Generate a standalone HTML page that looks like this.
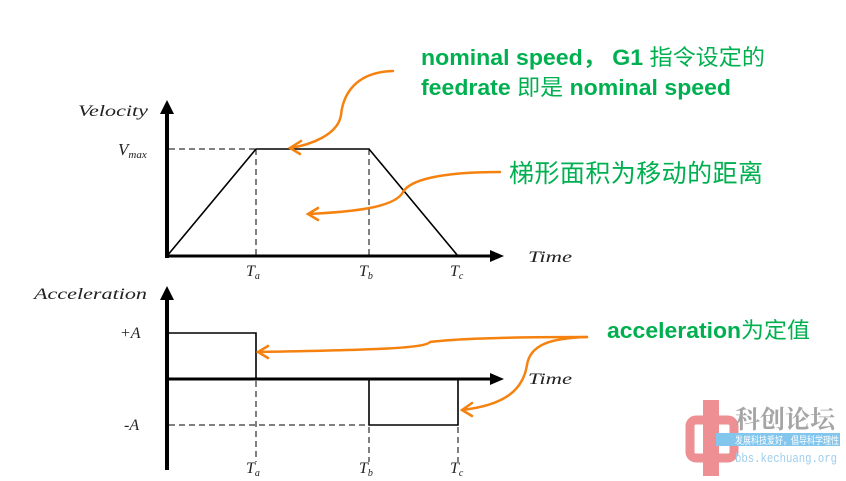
<!DOCTYPE html>
<html><head><meta charset="utf-8"><style>
body{margin:0;width:846px;height:481px;background:#fff;overflow:hidden;position:relative}
svg{position:absolute;left:0;top:0}
</style></head><body>
<svg width="846" height="481" viewBox="0 0 846 481" xmlns="http://www.w3.org/2000/svg">
<g font-family="Liberation Serif, serif" font-style="italic" fill="#222">
<text x="78" y="116" font-size="16" textLength="70" lengthAdjust="spacingAndGlyphs">Velocity</text>
<text x="118" y="155" font-size="17">V<tspan font-size="11" dy="3">max</tspan></text>
<text x="528" y="262" font-size="16" textLength="44" lengthAdjust="spacingAndGlyphs">Time</text>
<text x="246" y="276" font-size="16">T<tspan font-size="10" dy="3">a</tspan></text>
<text x="359" y="276" font-size="16">T<tspan font-size="10" dy="3">b</tspan></text>
<text x="450" y="276" font-size="16">T<tspan font-size="10" dy="3">c</tspan></text>
<text x="34" y="299" font-size="16" textLength="113" lengthAdjust="spacingAndGlyphs">Acceleration</text>
<text x="120" y="338" font-size="16">+A</text>
<text x="124" y="430" font-size="16">-A</text>
<text x="528" y="384" font-size="16" textLength="44" lengthAdjust="spacingAndGlyphs">Time</text>
<text x="246" y="473" font-size="16">T<tspan font-size="10" dy="3">a</tspan></text>
<text x="359" y="473" font-size="16">T<tspan font-size="10" dy="3">b</tspan></text>
<text x="450" y="473" font-size="16">T<tspan font-size="10" dy="3">c</tspan></text>
</g>
<line x1="167" y1="258" x2="167" y2="106" stroke="#000" stroke-width="4"/>
<path d="M160,114 L167,100 L174,114 Z"/>
<line x1="165" y1="256" x2="496" y2="256" stroke="#000" stroke-width="3"/>
<path d="M490,250 L504,256 L490,262 Z"/>
<polyline points="167,256 256,149 369,149 458,256" fill="none" stroke="#000" stroke-width="1.6"/>
<g stroke="#000" stroke-width="1" stroke-dasharray="6,4" fill="none">
<line x1="169" y1="149" x2="256" y2="149"/>
<line x1="256" y1="149" x2="256" y2="256"/>
<line x1="369" y1="149" x2="369" y2="256"/>
</g>
<line x1="167" y1="470" x2="167" y2="294" stroke="#000" stroke-width="4"/>
<path d="M160,300 L167,286 L174,300 Z"/>
<line x1="165" y1="379" x2="496" y2="379" stroke="#000" stroke-width="3"/>
<path d="M490,373 L504,379 L490,385 Z"/>
<polyline points="167,333 256,333 256,379" fill="none" stroke="#000" stroke-width="1.6"/>
<polyline points="369,379 369,425 458,425 458,379" fill="none" stroke="#000" stroke-width="1.6"/>
<g stroke="#000" stroke-width="1" stroke-dasharray="6,4" fill="none">
<line x1="169" y1="425" x2="369" y2="425"/>
<line x1="256" y1="381" x2="256" y2="462"/>
<line x1="369" y1="427" x2="369" y2="462"/>
<line x1="458" y1="427" x2="458" y2="462"/>
</g>
<g stroke="#f5820f" stroke-width="2.5" fill="none" stroke-linecap="round">
<path d="M393,71 C355,72 343,95 341,115 C338,135 310,145 290,148"/>
<path d="M301,141 L290,148 L300,154"/>
<path d="M500,172 C440,172 410,180 403,192 C395,208 350,212 308,214"/>
<path d="M318,208 L308,214 L318,220"/>
<path d="M587,337 C520,337 460,338 430,342 C425,348 380,350 258,352"/>
<path d="M268,346 L258,352 L268,358"/>
<path d="M587,337 C550,338 530,345 527,365 C523,390 505,405 462,410"/>
<path d="M472,403 L462,410 L472,416"/>
</g>
<g fill="#00b050" font-family="Liberation Sans, Noto Sans CJK SC, sans-serif">
<text x="421" y="65" font-size="22" font-weight="bold" textLength="344" lengthAdjust="spacingAndGlyphs">nominal speed， G1 <tspan font-weight="normal">指令设定的</tspan></text>
<text x="421" y="95" font-size="22" font-weight="bold" textLength="310" lengthAdjust="spacingAndGlyphs">feedrate <tspan font-weight="normal">即是</tspan> nominal speed</text>
<text x="509" y="182" font-size="25" textLength="254" lengthAdjust="spacing">梯形面积为移动的距离</text>
<text x="607" y="338" font-size="22" font-weight="bold" textLength="203" lengthAdjust="spacingAndGlyphs">acceleration<tspan font-weight="normal">为定值</tspan></text>
</g>
<g opacity="0.75">
<rect x="703" y="400" width="16" height="76" fill="#e86a70"/>
<rect x="690" y="420" width="44" height="38" rx="6" fill="none" stroke="#e86a70" stroke-width="9"/>
<text x="735" y="428" font-size="25" fill="#888" font-family="Noto Serif CJK SC, serif" font-weight="bold" textLength="100" lengthAdjust="spacingAndGlyphs">科创论坛</text>
<rect x="716" y="433" width="124" height="13" fill="#5ab4e8"/>
<text x="735" y="444" font-size="10" fill="#fff" font-family="Noto Sans CJK SC, sans-serif" textLength="104" lengthAdjust="spacingAndGlyphs">发展科技爱好，倡导科学理性</text>
<text x="735" y="462" font-size="13" fill="#7fbde6" font-family="Liberation Mono, monospace" textLength="102" lengthAdjust="spacingAndGlyphs">bbs.kechuang.org</text>
</g>
</svg>
</body></html>
